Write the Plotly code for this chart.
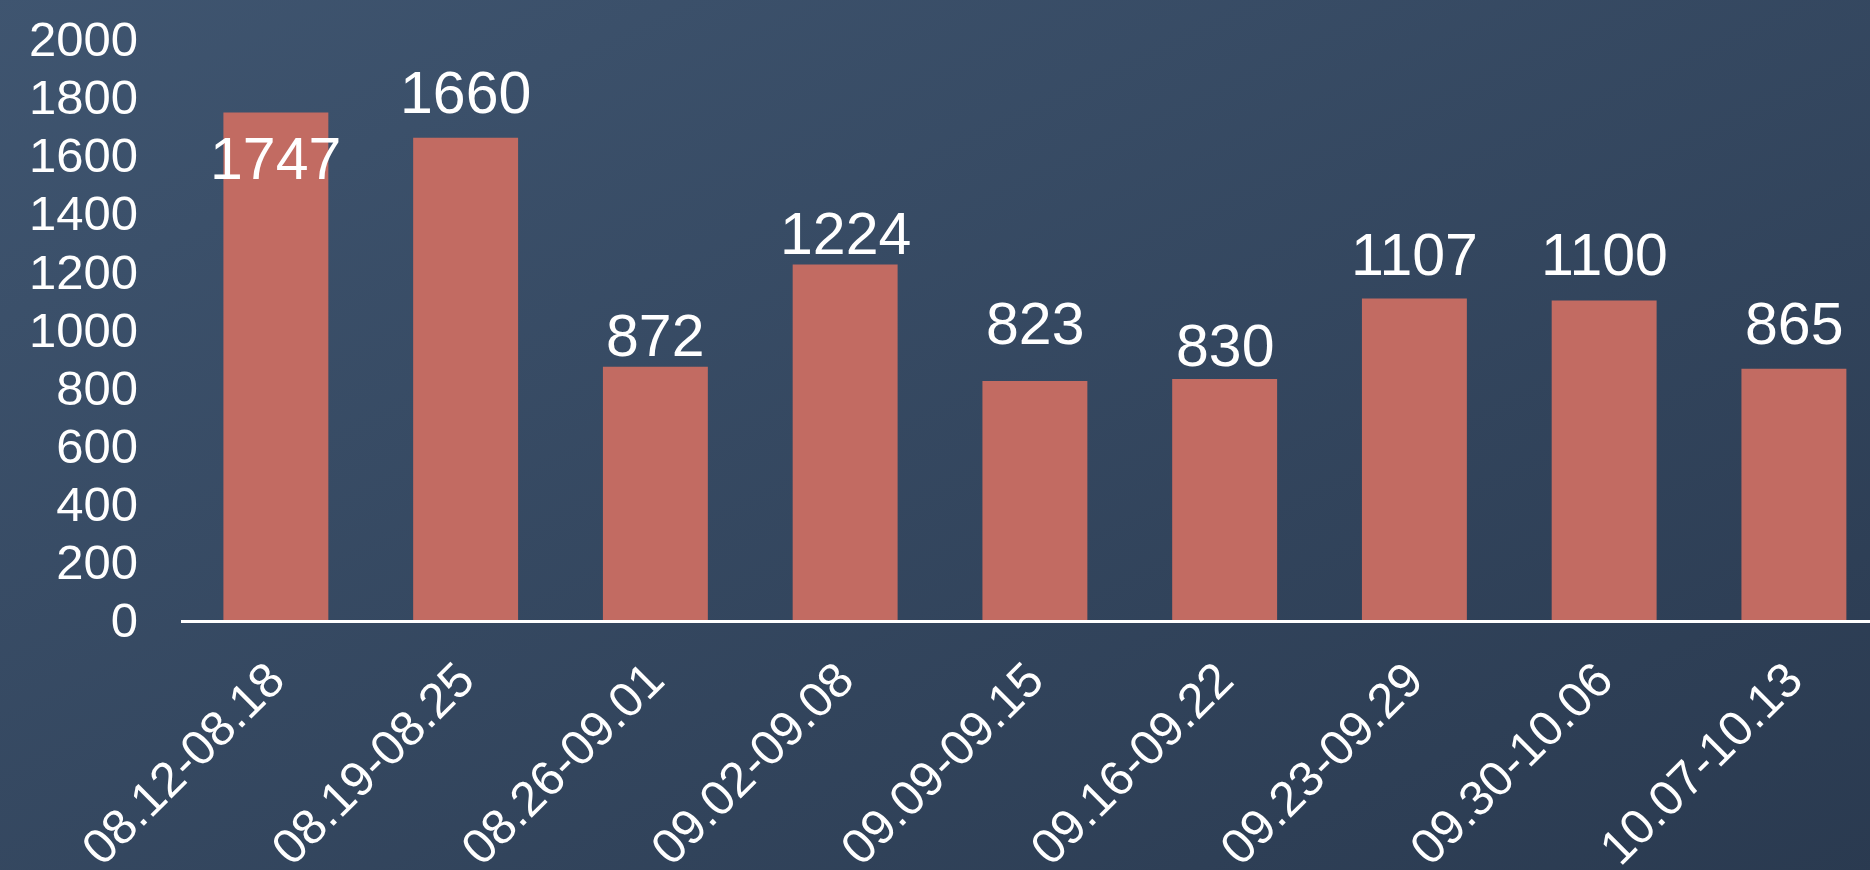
import plotly.graph_objects as go
import urllib.parse

categories = ["08.12-08.18", "08.19-08.25", "08.26-09.01", "09.02-09.08", "09.09-09.15",
              "09.16-09.22", "09.23-09.29", "09.30-10.06", "10.07-10.13"]
values = [1747, 1660, 872, 1224, 823, 830, 1107, 1100, 865]
y_ticks = [0, 200, 400, 600, 800, 1000, 1200, 1400, 1600, 1800, 2000]

# label vertical offsets from bar top (px), as placed in the original
label_offsets = [-46, 45, 31, 30, 57, 33, 43, 45, 45]

W, H = 1870, 870
ML, MT, MB = 181, 39, 249.5
plot_w = W - ML
plot_h = H - MT - MB

FONT = "Liberation Sans, Arial, sans-serif"

svg = (
    "<svg xmlns='http://www.w3.org/2000/svg' width='1870' height='870' "
    "viewBox='0 0 1870 870' preserveAspectRatio='none'>"
    "<defs><linearGradient id='g' x1='0' y1='0' x2='1' y2='1'>"
    "<stop offset='0' stop-color='#3f5570'/>"
    "<stop offset='1' stop-color='#2a3a50'/>"
    "</linearGradient></defs>"
    "<rect width='1870' height='870' fill='url(#g)'/></svg>"
)
bg_src = "data:image/svg+xml;charset=utf-8," + urllib.parse.quote(svg)

fig = go.Figure()
fig.add_trace(go.Bar(
    x=categories, y=values,
    marker=dict(color="#c26b62", line=dict(width=0)),
    hoverinfo="x+y",
))

for c, v, off in zip(categories, values, label_offsets):
    fig.add_annotation(
        x=c, y=v, text=str(v), showarrow=False,
        yanchor="middle", xanchor="center", yshift=off,
        font=dict(family=FONT, size=59, color="white"),
    )

EXT = 10
fig.update_layout(
    width=W, height=H,
    margin=dict(l=ML, r=0, t=MT, b=MB, pad=0, autoexpand=False),
    paper_bgcolor="#34475e",
    plot_bgcolor="rgba(0,0,0,0)",
    bargap=0.447,
    showlegend=False,
    font=dict(family=FONT, color="white"),
    images=[dict(
        source=bg_src, xref="paper", yref="paper",
        x=-(ML + EXT) / plot_w, y=1 + (MT + EXT) / plot_h,
        sizex=(W + 2 * EXT) / plot_w, sizey=(H + 2 * EXT) / plot_h,
        xanchor="left", yanchor="top", sizing="stretch", layer="below",
    )],
    xaxis=dict(
        type="category", range=[-0.5, 8.401], automargin=False,
        showline=True, linecolor="white", linewidth=3,
        showgrid=False, zeroline=False, ticks="",
        tickangle=-45, tickfont=dict(family=FONT, size=49, color="white"),
        ticklabelstandoff=8, ticklabelshift=-6,
    ),
    yaxis=dict(
        range=[0, 2000], tickvals=y_ticks, automargin=False,
        showline=False, showgrid=False, zeroline=False, ticks="",
        tickfont=dict(family=FONT, size=49, color="white"),
        ticklabelstandoff=42,
    ),
)

fig.write_html(
    "out.html",
    config={"displayModeBar": False},
    post_script="document.body.style.margin='0';document.body.style.overflow='hidden';",
)
